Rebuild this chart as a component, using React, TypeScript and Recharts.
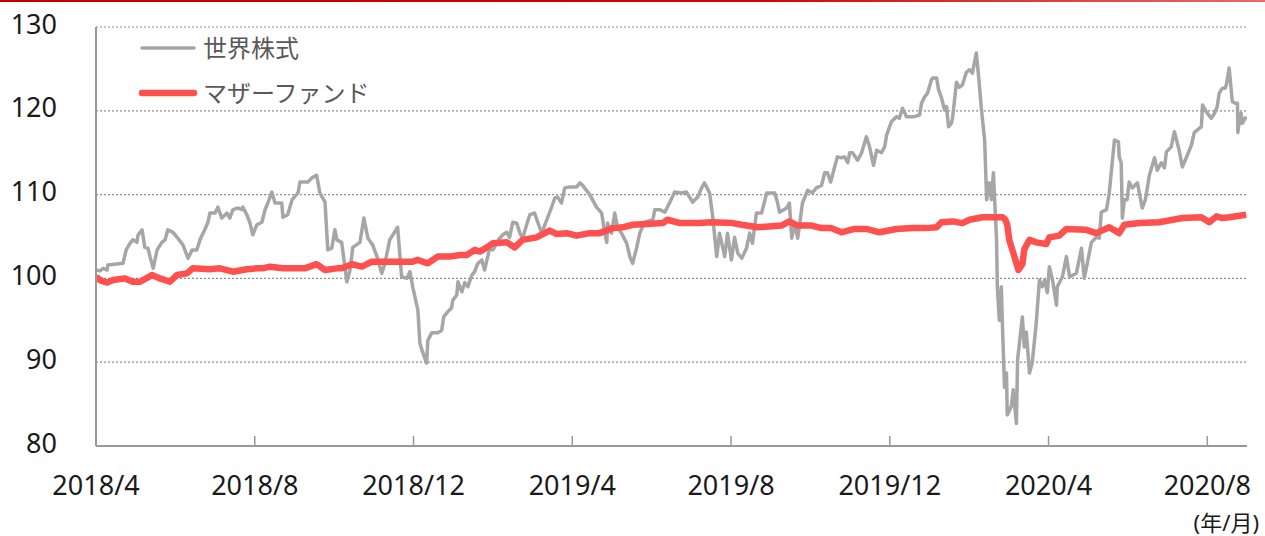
import React from "react";
import { LineChart, Line, XAxis, YAxis, CartesianGrid, Legend } from "recharts";

// time axis: months since 2018/4
const monthTicks = [0, 4, 8, 12, 16, 20, 24, 28];
const monthLabels = ["2018/4", "2018/8", "2018/12", "2019/4", "2019/8", "2019/12", "2020/4", "2020/8"];
const valueTicks = [80, 90, 100, 110, 120, 130];

const seriesNames = ["世界株式", "マザーファンド"];

const worldT = [
  0.0, 0.1, 0.18, 0.28, 0.3, 0.68, 0.76, 0.86, 0.93, 1.03, 1.06, 1.16, 1.23, 1.31, 1.36, 1.44, 1.54, 1.66, 1.74, 1.81,
  1.94, 2.06, 2.19, 2.32, 2.42, 2.54, 2.62, 2.74, 2.82, 2.87, 3.0, 3.07, 3.17, 3.3, 3.37, 3.45, 3.58, 3.68, 3.7, 3.8,
  3.88, 3.95, 4.05, 4.18, 4.26, 4.33, 4.43, 4.51, 4.68, 4.71, 4.83, 4.94, 5.09, 5.14, 5.34, 5.44, 5.56, 5.64, 5.77, 5.84,
  5.94, 6.02, 6.07, 6.19, 6.32, 6.4, 6.47, 6.65, 6.75, 6.85, 6.97, 7.08, 7.2, 7.28, 7.4, 7.6, 7.7, 7.83, 7.91, 7.98,
  8.11, 8.16, 8.23, 8.33, 8.36, 8.46, 8.61, 8.71, 8.76, 8.86, 8.96, 8.99, 9.09, 9.12, 9.22, 9.29, 9.37, 9.47, 9.54, 9.62,
  9.72, 9.79, 9.87, 9.92, 10.0, 10.17, 10.25, 10.35, 10.42, 10.5, 10.6, 10.68, 10.75, 10.85, 10.93, 11.05, 11.13, 11.23, 11.36, 11.48,
  11.56, 11.63, 11.73, 11.81, 11.94, 12.11, 12.19, 12.26, 12.44, 12.61, 12.74, 12.82, 12.87, 12.89, 12.99, 13.07, 13.14, 13.24, 13.37, 13.45,
  13.52, 13.62, 13.7, 13.82, 14.03, 14.08, 14.2, 14.33, 14.45, 14.58, 14.75, 14.88, 15.03, 15.16, 15.26, 15.33, 15.46, 15.54, 15.64, 15.71,
  15.84, 15.91, 16.01, 16.09, 16.17, 16.27, 16.39, 16.47, 16.54, 16.64, 16.77, 16.9, 17.1, 17.17, 17.22, 17.4, 17.47, 17.53, 17.6, 17.68,
  17.8, 17.93, 18.05, 18.15, 18.28, 18.36, 18.43, 18.51, 18.61, 18.68, 18.78, 18.86, 18.94, 18.99, 19.06, 19.19, 19.29, 19.41, 19.49, 19.59,
  19.67, 19.79, 19.87, 19.92, 20.04, 20.17, 20.24, 20.32, 20.42, 20.62, 20.75, 20.8, 20.87, 20.95, 21.05, 21.08, 21.18, 21.23, 21.3, 21.38,
  21.43, 21.48, 21.55, 21.58, 21.68, 21.75, 21.83, 21.93, 22.01, 22.08, 22.18, 22.23, 22.31, 22.39, 22.44, 22.51, 22.56, 22.61, 22.69, 22.71,
  22.76, 22.81, 22.84, 22.89, 22.94, 22.96, 23.06, 23.11, 23.19, 23.22, 23.34, 23.39, 23.44, 23.52, 23.59, 23.69, 23.77, 23.84, 23.9, 23.97,
  24.02, 24.1, 24.2, 24.22, 24.35, 24.45, 24.53, 24.7, 24.83, 24.9, 25.08, 25.2, 25.28, 25.33, 25.46, 25.53, 25.61, 25.66, 25.76, 25.78,
  25.83, 25.86, 25.91, 25.98, 26.03, 26.11, 26.24, 26.36, 26.44, 26.54, 26.67, 26.74, 26.84, 26.92, 26.97, 27.09, 27.17, 27.29, 27.37, 27.47,
  27.6, 27.67, 27.85, 27.88, 27.97, 28.1, 28.18, 28.25, 28.3, 28.38, 28.45, 28.48, 28.55, 28.63, 28.7, 28.76, 28.77, 28.8, 28.85, 28.88,
  28.98,
];
const worldV = [
  101.0, 100.9, 101.2, 101.0, 101.6, 101.8, 103.4, 104.2, 104.6, 104.3, 105.2, 105.8, 103.7, 103.6, 102.6, 101.2, 103.4, 104.3, 104.6, 105.8,
  105.5, 104.8, 104.0, 102.4, 103.4, 103.4, 104.6, 105.8, 106.7, 107.8, 107.8, 108.5, 107.2, 107.8, 107.2, 108.2, 108.4, 108.2, 108.5, 107.6,
  106.6, 105.2, 106.4, 106.7, 108.2, 109.0, 110.3, 109.0, 109.0, 107.3, 107.6, 109.4, 110.2, 111.5, 111.5, 112.0, 112.3, 110.2, 109.1, 103.4,
  103.6, 105.8, 104.6, 104.3, 99.6, 101.0, 103.7, 104.3, 107.2, 104.8, 104.0, 102.6, 100.6, 101.8, 104.6, 106.1, 100.2, 100.0, 100.8, 99.0,
  96.2, 92.3, 91.2, 89.9, 92.6, 93.5, 93.5, 93.8, 95.4, 96.0, 96.5, 97.4, 98.0, 99.6, 98.4, 99.5, 99.0, 100.4, 100.8, 101.8,
  102.2, 101.0, 102.6, 103.6, 103.4, 104.8, 105.2, 105.5, 104.9, 106.7, 106.6, 105.4, 104.8, 106.4, 107.6, 107.8, 106.7, 105.4, 107.0, 108.5,
  109.6, 109.7, 109.0, 110.8, 110.9, 110.9, 111.4, 111.1, 110.0, 108.5, 107.8, 105.4, 104.3, 106.6, 105.4, 107.8, 106.1, 105.4, 104.2, 102.6,
  101.8, 103.6, 105.4, 106.7, 107.0, 108.2, 108.2, 107.9, 109.0, 110.3, 110.2, 110.3, 109.1, 109.7, 110.8, 111.4, 110.2, 107.3, 102.6, 105.4,
  102.6, 105.4, 102.2, 104.9, 103.0, 102.4, 103.6, 105.4, 104.2, 107.8, 107.8, 110.2, 110.2, 109.1, 107.9, 108.4, 109.0, 104.8, 106.6, 104.8,
  109.0, 110.5, 110.2, 110.8, 111.1, 112.6, 112.6, 111.5, 113.3, 114.5, 114.4, 114.5, 113.8, 115.0, 115.0, 114.1, 115.0, 116.9, 115.7, 113.5,
  115.3, 115.0, 115.7, 117.1, 118.7, 119.3, 119.1, 120.3, 119.3, 119.3, 119.5, 120.9, 121.6, 122.1, 123.7, 123.9, 123.9, 122.5, 121.6, 120.1,
  120.5, 118.1, 118.5, 119.1, 123.4, 122.8, 123.1, 124.6, 124.9, 124.5, 126.9, 124.5, 120.1, 116.5, 109.4, 111.4, 109.4, 112.6, 104.6, 99.0,
  95.0, 99.0, 94.2, 87.0, 88.7, 83.7, 84.7, 86.7, 82.7, 90.3, 95.4, 91.8, 93.6, 88.7, 90.0, 94.7, 99.8, 99.0, 99.8, 98.3,
  101.4, 99.8, 96.8, 99.0, 100.2, 102.6, 100.2, 100.6, 103.6, 100.0, 104.3, 104.9, 104.8, 107.9, 108.2, 110.2, 114.1, 116.5, 116.3, 114.5,
  113.8, 107.2, 109.4, 109.4, 111.5, 110.8, 111.4, 108.4, 109.4, 112.3, 114.4, 112.9, 113.8, 113.2, 115.1, 115.7, 117.5, 115.3, 113.3, 114.4,
  115.9, 117.4, 118.1, 120.7, 119.9, 119.1, 119.7, 120.5, 122.1, 122.7, 122.7, 123.1, 125.1, 121.1, 120.9, 120.9, 117.4, 118.5, 119.7, 118.5,
  119.3,
];

const motherT = [
  0.0, 0.1, 0.28, 0.43, 0.73, 0.93, 1.11, 1.41, 1.61, 1.86, 2.04, 2.29, 2.44, 2.87, 3.12, 3.45, 3.8, 4.05, 4.2, 4.38,
  4.71, 5.14, 5.26, 5.56, 5.77, 6.07, 6.19, 6.45, 6.7, 6.95, 7.53, 7.98, 8.11, 8.36, 8.61, 8.91, 9.17, 9.34, 9.54, 9.67,
  9.85, 10.0, 10.35, 10.55, 10.75, 11.1, 11.43, 11.61, 11.86, 12.11, 12.44, 12.69, 13.02, 13.27, 13.52, 13.87, 14.28, 14.4, 14.71, 15.21,
  15.51, 16.04, 16.27, 16.67, 17.27, 17.47, 17.68, 18.03, 18.28, 18.53, 18.78, 19.11, 19.41, 19.74, 20.17, 20.57, 20.92, 21.18, 21.3, 21.58,
  21.83, 22.01, 22.33, 22.84, 22.91, 22.96, 23.01, 23.14, 23.24, 23.34, 23.39, 23.52, 23.69, 23.94, 24.02, 24.27, 24.45, 24.95, 25.2, 25.53,
  25.78, 25.91, 26.29, 26.79, 27.37, 27.85, 28.05, 28.23, 28.38, 28.55, 28.98,
];
const motherV = [
  100.2, 99.8, 99.5, 99.8, 100.0, 99.6, 99.6, 100.4, 100.0, 99.6, 100.4, 100.6, 101.2, 101.1, 101.2, 100.8, 101.1, 101.2, 101.2, 101.4,
  101.2, 101.2, 101.2, 101.7, 101.0, 101.2, 101.2, 101.7, 101.4, 102.0, 102.0, 102.0, 102.2, 101.8, 102.6, 102.6, 102.8, 102.8, 103.4, 103.2,
  103.7, 104.2, 104.3, 103.7, 104.6, 104.9, 105.7, 105.3, 105.4, 105.1, 105.4, 105.4, 106.0, 106.1, 106.4, 106.5, 106.6, 107.0, 106.6, 106.6,
  106.7, 106.6, 106.4, 106.1, 106.3, 106.8, 106.3, 106.3, 106.0, 106.0, 105.5, 105.9, 105.9, 105.5, 105.9, 106.0, 106.0, 106.1, 106.7, 106.8,
  106.6, 107.0, 107.3, 107.3, 107.0, 106.4, 104.6, 102.6, 101.0, 101.7, 103.5, 104.6, 104.3, 104.1, 104.9, 105.1, 105.9, 105.8, 105.4, 106.1,
  105.4, 106.4, 106.6, 106.7, 107.2, 107.3, 106.7, 107.4, 107.2, 107.3, 107.6,
];

const worldData = worldT.map((t, i) => ({ t, v: worldV[i] }));
const motherData = motherT.map((t, i) => ({ t, v: motherV[i] }));

const FONT = "'Noto Sans', 'Noto Sans CJK JP', sans-serif";
const AXIS_GRAY = "#999999";
const WORLD_COLOR = "#a6a6a6";
const MOTHER_COLOR = "#ff5050";
const X_LABEL_GAP = 30;

const XTick = (props: any) => {
  const { x, y, payload } = props;
  const idx = monthTicks.indexOf(payload.value);
  return (
    <g>
      <line x1={x} x2={x} y1={y - X_LABEL_GAP} y2={y - X_LABEL_GAP - 10} stroke={AXIS_GRAY} strokeWidth={1.5} />
      <text x={x} y={y} dy="0.71em" textAnchor="middle" fill="#1a1a1a" fontSize={27} fontFamily={FONT}>
        {idx >= 0 ? monthLabels[idx] : ""}
      </text>
    </g>
  );
};

const YTick = (props: any) => {
  const { x, y, payload } = props;
  return (
    <text x={x} y={y} dy="0.355em" textAnchor="end" fill="#1a1a1a" fontSize={27} fontFamily={FONT} transform="translate(0,-3)">
      {payload.value}
    </text>
  );
};

const LegendContent = () => {
  const items = [
    { name: seriesNames[0], color: WORLD_COLOR, width: 3.5 },
    { name: seriesNames[1], color: MOTHER_COLOR, width: 6.5 },
  ];
  return (
    <svg width={260} height={80} style={{ overflow: "visible", display: "block" }}>
      {items.map((it, i) => (
        <g key={it.name} transform={`translate(0, ${12 + i * 45})`}>
          <line x1={2} x2={54} y1={0} y2={0} stroke={it.color} strokeWidth={it.width} strokeLinecap="round" />
          <text x={63} y={0} dy="0.36em" fontSize={24} fill="#595959" fontFamily={FONT}>
            {it.name}
          </text>
        </g>
      ))}
    </svg>
  );
};

export default function App() {
  return (
    <div style={{ position: "absolute", left: 0, top: 0, width: 1265, height: 536, background: "#fff", overflow: "hidden" }}>
      <div
        style={{
          position: "absolute",
          left: 0,
          top: 0,
          width: 1265,
          height: 2,
          background: "linear-gradient(90deg, #c00000 0%, #c80808 60%, #e86a6a 100%)",
        }}
      />
      <LineChart width={1265} height={536} margin={{ top: 27, right: 18, bottom: 30, left: 0 }}>
        <CartesianGrid vertical={false} stroke="#8c8c8c" strokeDasharray="2 2" strokeWidth={1.2} />
        <XAxis
          dataKey="t"
          type="number"
          domain={[0, 29]}
          ticks={monthTicks}
          allowDataOverflow
          height={60}
          tickSize={0}
          tickMargin={X_LABEL_GAP}
          tickLine={false}
          axisLine={{ stroke: AXIS_GRAY, strokeWidth: 2 }}
          tick={<XTick />}
          interval={0}
        />
        <XAxis
          xAxisId="top"
          orientation="top"
          dataKey="t"
          type="number"
          domain={[0, 29]}
          height={0}
          tick={false}
          tickLine={false}
          axisLine={{ stroke: AXIS_GRAY, strokeWidth: 1.5 }}
        />
        <YAxis
          type="number"
          domain={[80, 130]}
          ticks={valueTicks}
          width={96}
          tickSize={0}
          tickMargin={39}
          tickLine={false}
          axisLine={{ stroke: AXIS_GRAY, strokeWidth: 2 }}
          tick={<YTick />}
          interval={0}
        />
        <YAxis
          yAxisId="right"
          orientation="right"
          type="number"
          domain={[80, 130]}
          width={0}
          tick={false}
          tickLine={false}
          axisLine={{ stroke: AXIS_GRAY, strokeWidth: 2 }}
        />
        <Legend
          layout="vertical"
          verticalAlign="middle"
          align="center"
          wrapperStyle={{ position: "absolute", left: 140, top: 36, width: 260, height: 80 }}
          content={<LegendContent />}
        />
        <Line
          data={worldData}
          dataKey="v"
          name={seriesNames[0]}
          stroke={WORLD_COLOR}
          strokeWidth={3.5}
          dot={false}
          strokeLinejoin="round"
          isAnimationActive={false}
        />
        <Line
          data={motherData}
          dataKey="v"
          name={seriesNames[1]}
          stroke={MOTHER_COLOR}
          strokeWidth={6.5}
          dot={false}
          strokeLinejoin="round"
          isAnimationActive={false}
        />
      </LineChart>
      <div
        style={{
          position: "absolute",
          right: 6,
          top: 510,
          fontSize: 22,
          lineHeight: "24px",
          fontFamily: FONT,
          color: "#1a1a1a",
          whiteSpace: "nowrap",
        }}
      >
        (年/月)
      </div>
    </div>
  );
}
